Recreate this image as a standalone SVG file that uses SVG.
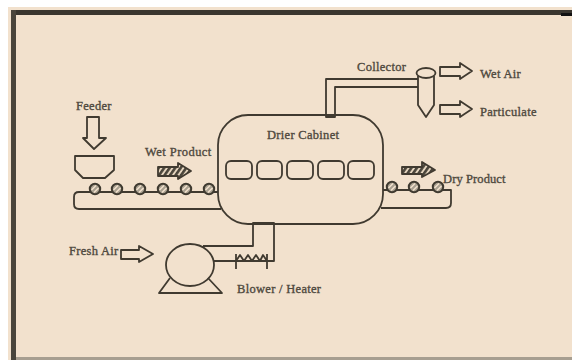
<svg xmlns="http://www.w3.org/2000/svg" width="572" height="360" viewBox="0 0 572 360">
<style>
.l{fill:none;stroke:#403a30;stroke-width:1.800;stroke-linejoin:round}
.t{font-family:"Liberation Serif",serif;font-size:12.500px;fill:#4f493e;stroke:#4f493e;stroke-width:.35;letter-spacing:.3px}
.r{fill:#a8a090;stroke:#3f3a30;stroke-width:2}
.s{stroke:#f2e1cd;stroke-width:1.500;fill:none}
.h{fill:url(#hatch);stroke:#403a30;stroke-width:1.800;stroke-linejoin:round}
</style>
<defs>
<g id="roller"><circle r="5.200" class="r"/><path class="s" d="M-3.500 1L1 -3.500M-1 3.500L3.500 -1"/></g>
<pattern id="hatch" width="4.500" height="4.500" patternUnits="userSpaceOnUse" patternTransform="rotate(35)"><rect width="4.500" height="4.500" fill="#e6d6c0"/><rect width="2.600" height="4.500" fill="#4a453b"/></pattern>
</defs>
<rect width="572" height="360" fill="#fff"/>
<rect x="8" y="7" width="564" height="353" fill="#f2e1cd"/>
<g id="frame">
<rect x="11" y="10" width="561" height="5" fill="#3a362f"/>
<rect x="561" y="13" width="11" height="3" fill="#111"/>
<rect x="11" y="10" width="5" height="350" fill="#4a453c"/>
<rect x="16" y="357" width="556" height="3" fill="#a79e90"/>
</g>
<g id="connectors">
<path class="l" d="M219 192H79Q74 192 74 197V204Q74 209 79 209H221"/>
<path class="l" d="M382 190H451V203Q451 208 446 208H381"/>
</g>
<g id="cabinet">
<rect x="218" y="115" width="165" height="109" rx="30" fill="#f2e1cd" stroke="#403a30" stroke-width="1.800"/>
<rect x="226" y="161" width="26" height="18" rx="5" class="l"/>
<rect x="257" y="161" width="25" height="18" rx="5" class="l"/>
<rect x="287" y="161" width="26" height="18" rx="5" class="l"/>
<rect x="318" y="161" width="26" height="18" rx="5" class="l"/>
<rect x="348" y="161" width="26" height="18" rx="5" class="l"/>
<text class="t" x="267" y="139">Drier Cabinet</text>
</g>
<g id="duct-top"><path class="l" d="M418 79H326V117H335V87H418" fill="#f2e1cd"/></g>
<g id="duct-bottom"><path class="l" d="M213 261H274V223H253V246H203" fill="none"/></g>
<g id="collector">
<path class="l" d="M418 76V105L426 117L434 105V76"/>
<ellipse cx="426" cy="73" rx="9.500" ry="5" fill="#f2e1cd" stroke="#403a30" stroke-width="1.800"/>
<text class="t" x="357" y="71">Collector</text>
</g>
<g id="wet-air"><path class="l" d="M440 67H460V63L472 71L460 79V76H440Z"/><text class="t" x="480" y="78">Wet Air</text></g>
<g id="particulate"><path class="l" d="M440 105H460V101L472 109L460 117V114H440Z"/><text class="t" x="480" y="116">Particulate</text></g>
<g id="feeder">
<text class="t" x="76" y="110">Feeder</text>
<path class="l" d="M87 117H99V138H106L94 149L83 138H87Z"/>
<path class="l" d="M75 156H114V170L105 178H83L75 170Z"/>
</g>
<g id="wet-product">
<text class="t" x="145" y="156" style="letter-spacing:.45px">Wet Product</text>
<path class="h" d="M158 167H178V163L191 171L178 179V176H158Z"/>
</g>
<g id="dry-product">
<text class="t" x="443" y="183" style="letter-spacing:.1px">Dry Product</text>
<path class="h" d="M402 167H422V162L435 170L422 177V174H402Z"/>
</g>
<g id="rollers-in">
<use href="#roller" x="95" y="189"/><use href="#roller" x="117" y="189"/><use href="#roller" x="140" y="189"/><use href="#roller" x="163" y="189"/><use href="#roller" x="186" y="189"/><use href="#roller" x="209" y="189"/>
</g>
<g id="rollers-out">
<use href="#roller" x="392" y="187"/><use href="#roller" x="414" y="187"/><use href="#roller" x="438" y="187"/>
</g>
<g id="fresh-air"><text class="t" x="69" y="255">Fresh Air</text><path class="l" d="M121 250H139V246L153 254L139 262V259H121Z"/></g>
<g id="blower">
<ellipse cx="190" cy="265" rx="24" ry="21" fill="#f2e1cd" stroke="#403a30" stroke-width="1.800"/>
<path class="l" d="M170 278L159 293H222L208 278"/>
</g>
<g id="heater">
<path class="l" d="M236 261L240 255L244 261L248 255L252 261L256 255L260 261L263 255L267 261M236 269V254M267 269V254"/>
<text class="t" x="237" y="293">Blower / Heater</text>
</g>
</svg>
